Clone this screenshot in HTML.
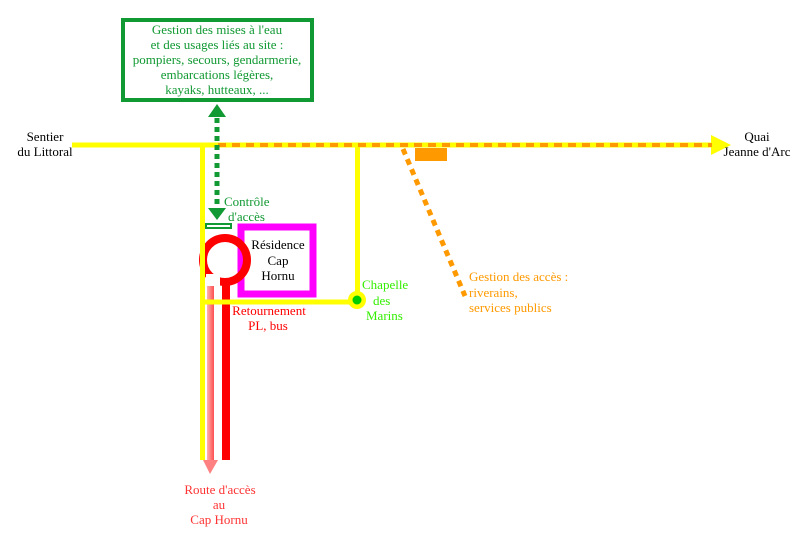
<!DOCTYPE html>
<html><head><meta charset="utf-8"><style>
html,body{margin:0;padding:0;background:#fff;}
svg{display:block;}
text{font-family:"Liberation Serif",serif;font-size:13px;}
</style></head><body>
<svg width="800" height="533" viewBox="0 0 800 533" xmlns="http://www.w3.org/2000/svg">
<defs>
<linearGradient id="pk" x1="0" x2="1" y1="0" y2="0">
<stop offset="0" stop-color="#ffb0b0"/><stop offset="1" stop-color="#ff5050"/>
</linearGradient>
</defs>
<rect x="123" y="20" width="189" height="80" fill="#fff" stroke="#119933" stroke-width="4"/>
<g fill="#119933" text-anchor="middle">
<text x="217" y="34">Gestion des mises à l'eau</text>
<text x="217" y="49">et des usages liés au site :</text>
<text x="217" y="64">pompiers, secours, gendarmerie,</text>
<text x="217" y="79">embarcations légères,</text>
<text x="217" y="94">kayaks, hutteaux, ...</text>
</g>
<line x1="72" y1="145" x2="714" y2="145" stroke="#ffff00" stroke-width="5"/>
<polygon points="711,135 731,145 711,155" fill="#ffff00"/>
<line x1="357.5" y1="145" x2="357.5" y2="300" stroke="#ffff00" stroke-width="5"/>
<line x1="218" y1="145" x2="712" y2="145" stroke="#ff9900" stroke-width="4" stroke-dasharray="8,6"/>
<rect x="415" y="148" width="32" height="13" fill="#ff9900"/>
<line x1="403" y1="149" x2="465" y2="296" stroke="#ff9900" stroke-width="5" stroke-dasharray="6,5"/>
<line x1="217" y1="118" x2="217" y2="209" stroke="#119933" stroke-width="5" stroke-dasharray="5,4"/>
<polygon points="208,117 217,104 226,117" fill="#119933"/>
<polygon points="208,208 226,208 217,220" fill="#119933"/>
<rect x="206" y="224" width="25" height="4" fill="#fff" stroke="#119933" stroke-width="2"/>
<rect x="241" y="227" width="72" height="67" fill="#fff" stroke="#ff00ff" stroke-width="7"/>
<circle cx="225" cy="260" r="22" fill="none" stroke="#ff0000" stroke-width="8"/>
<rect x="206" y="274" width="14" height="24" fill="#fff"/>
<rect x="207" y="286" width="7" height="174" fill="url(#pk)"/>
<polygon points="203,460 218,460 210,474" fill="#ff8080"/>
<rect x="222" y="280" width="8" height="180" fill="#ff0000"/>
<line x1="202.5" y1="145" x2="202.5" y2="460" stroke="#ffff00" stroke-width="5"/>
<line x1="202" y1="302" x2="357" y2="302" stroke="#ffff00" stroke-width="5"/>
<g fill="#000" text-anchor="middle">
<text x="278" y="249">Résidence</text>
<text x="278" y="265">Cap</text>
<text x="278" y="280">Hornu</text>
</g>
<circle cx="357" cy="300" r="9" fill="#ffff00"/>
<circle cx="357" cy="300" r="4.5" fill="#00cc00"/>
<g fill="#33ee00">
<text x="362" y="289">Chapelle</text>
<text x="373" y="305">des</text>
<text x="366" y="320">Marins</text>
</g>
<g fill="#119933"><text x="224" y="206">Contrôle</text><text x="228" y="221">d'accès</text></g>
<g fill="#ff0000" text-anchor="middle"><text x="269" y="315">Retournement</text><text x="268" y="330">PL, bus</text></g>
<g fill="#ff3333" text-anchor="middle"><text x="220" y="494">Route d'accès</text><text x="219" y="509">au</text><text x="219" y="524">Cap Hornu</text></g>
<g fill="#ff9900"><text x="469" y="281">Gestion des accès :</text><text x="469" y="297">riverains,</text><text x="469" y="312">services publics</text></g>
<g fill="#000" text-anchor="middle"><text x="45" y="141">Sentier</text><text x="45" y="156">du Littoral</text>
<text x="757" y="141">Quai</text><text x="757" y="156">Jeanne d'Arc</text></g>
</svg>
</body></html>
